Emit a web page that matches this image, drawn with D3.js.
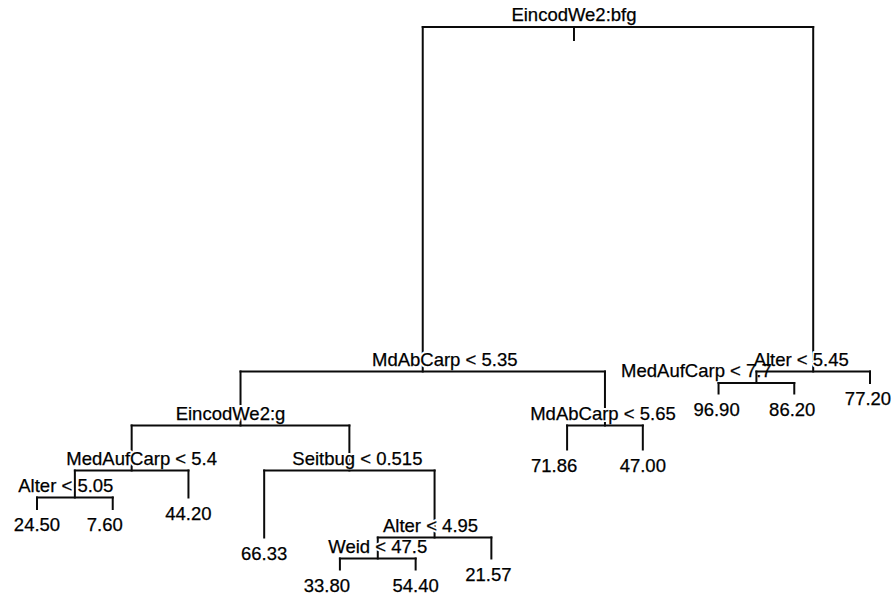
<!DOCTYPE html>
<html>
<head>
<meta charset="utf-8">
<script src="https://cdn.jsdelivr.net/npm/d3@7"></script>
<style>
  html, body { margin: 0; padding: 0; background: #fff; }
  svg { display: block; }
</style>
</head>
<body>
<svg id="chart" width="893" height="597"></svg>
<script>
// Regression tree. Nodes use binary numbering: children of node k are 2k and 2k+1.
const nodeIds = [1, 2, 3, 4, 5, 6, 7, 8, 9, 10, 11, 12, 13, 16, 17, 18, 19, 32, 33, 38, 39, 76, 77];
const nodeLabels = [
  "EincodWe2:bfg", "MdAbCarp < 5.35", "Alter < 5.45", "EincodWe2:g", "MdAbCarp < 5.65",
  "MedAufCarp < 7.7", "77.20", "MedAufCarp < 5.4", "Seitbug < 0.515", "71.86", "47.00",
  "96.90", "86.20", "Alter < 5.05", "44.20", "66.33", "Alter < 4.95", "24.50", "7.60",
  "Weid < 47.5", "21.57", "33.80", "54.40"
];
// Deviance reduction achieved by each split (internal nodes only).
const splitIds  = [1, 2, 3, 4, 5, 6, 8, 9, 16, 19, 38];
const splitGain = [3445, 540, 115, 450, 240, 105, 270, 670, 115, 210, 110];

// Horizontal label adjustments (px) so labels clear neighbouring branches.
const labelShift = { 1: -44, 2: 22, 3: -12, 4: -10, 5: -2, 6: -60, 8: 10, 9: 8, 16: -9, 19: -4,
                     33: -8, 76: -13, 10: -13, 39: -3, 7: -2, 12: -2, 13: -2 };
// Labels that sit directly on a branch without a knock-out halo.
const plainLabels = new Set([6]);

const W = 893, H = 597;
const svg = d3.select("#chart");
svg.append("rect").attr("width", W).attr("height", H).attr("fill", "#fff");

// Build node table
const nodes = new Map();
nodeIds.forEach((id, i) => nodes.set(id, { id, label: nodeLabels[i] }));
const gainOf = new Map(splitIds.map((id, i) => [id, splitGain[i]]));
nodes.forEach(n => {
  n.left = nodes.get(n.id * 2) || null;
  n.right = nodes.get(n.id * 2 + 1) || null;
  n.leaf = !n.left;
  n.parent = n.id > 1 ? nodes.get(Math.floor(n.id / 2)) : null;
});

// Vertical coordinate: both children sit below their parent by the parent's deviance reduction.
const root = nodes.get(1);
(function setY(n, y) {
  n.dy = y;
  if (!n.leaf) {
    const gn = gainOf.get(n.id);
    setY(n.left, y - gn);
    setY(n.right, y - gn);
  }
})(root, 0);

// Horizontal coordinate: leaves numbered left to right, internal nodes midway between children.
let leafCount = 0;
(function order(n) {
  if (n.leaf) { n.dx = ++leafCount; return; }
  order(n.left); order(n.right);
  n.dx = (n.left.dx + n.right.dx) / 2;
})(root);

const all = Array.from(nodes.values());
const yMin = d3.min(all, d => d.dy);
const x = d3.scaleLinear().domain([1, leafCount]).range([37, 870]);
const y = d3.scaleLinear().domain([yMin, 0]).range([27 - yMin * 0.1, 27]);

const g = svg.append("g")
  .attr("stroke", "#0a0a0a")
  .attr("stroke-width", 2)
  .attr("stroke-linecap", "square")
  .attr("fill", "none");

// Vertical drops from the parent's level to each node's own level
all.filter(n => n.parent).forEach(n => {
  g.append("line")
    .attr("x1", x(n.dx)).attr("x2", x(n.dx))
    .attr("y1", y(n.parent.dy)).attr("y2", y(n.dy));
});

// Labels: split rules above each split, fitted values below each leaf
const fontFamily = "'Liberation Sans', Arial, Helvetica, sans-serif";
const labelPos = n => [x(n.dx) + (labelShift[n.id] || 0), n.leaf ? y(n.dy) + 22 : y(n.dy) - 6];

// White knock-out behind split labels so the stems pass underneath the text
svg.append("g")
  .attr("font-family", fontFamily).attr("font-size", 18.5)
  .attr("text-anchor", "middle")
  .attr("fill", "#fff").attr("stroke", "#fff").attr("stroke-width", 4)
  .attr("stroke-linejoin", "round")
  .selectAll("text")
  .data(all.filter(n => !n.leaf && !plainLabels.has(n.id)))
  .join("text")
  .attr("x", d => labelPos(d)[0]).attr("y", d => labelPos(d)[1])
  .text(d => d.label);

// Horizontal bars joining each split to its children
const gb = svg.append("g")
  .attr("stroke", "#0a0a0a")
  .attr("stroke-width", 2)
  .attr("stroke-linecap", "square")
  .attr("fill", "none");
all.filter(n => !n.leaf).forEach(n => {
  gb.append("line")
    .attr("x1", x(n.left.dx)).attr("x2", x(n.right.dx))
    .attr("y1", y(n.dy)).attr("y2", y(n.dy));
});
// Short stub under the root label
gb.append("line")
  .attr("x1", x(root.dx) + labelShift[1]).attr("x2", x(root.dx) + labelShift[1])
  .attr("y1", y(root.dy)).attr("y2", y(root.dy) + 13);

svg.append("g")
  .attr("font-family", fontFamily).attr("font-size", 18.5)
  .attr("text-anchor", "middle")
  .attr("fill", "#000").attr("stroke", "#000").attr("stroke-width", 0.25)
  .selectAll("text")
  .data(all)
  .join("text")
  .attr("x", d => labelPos(d)[0]).attr("y", d => labelPos(d)[1])
  .text(d => d.label);
</script>
</body>
</html>
